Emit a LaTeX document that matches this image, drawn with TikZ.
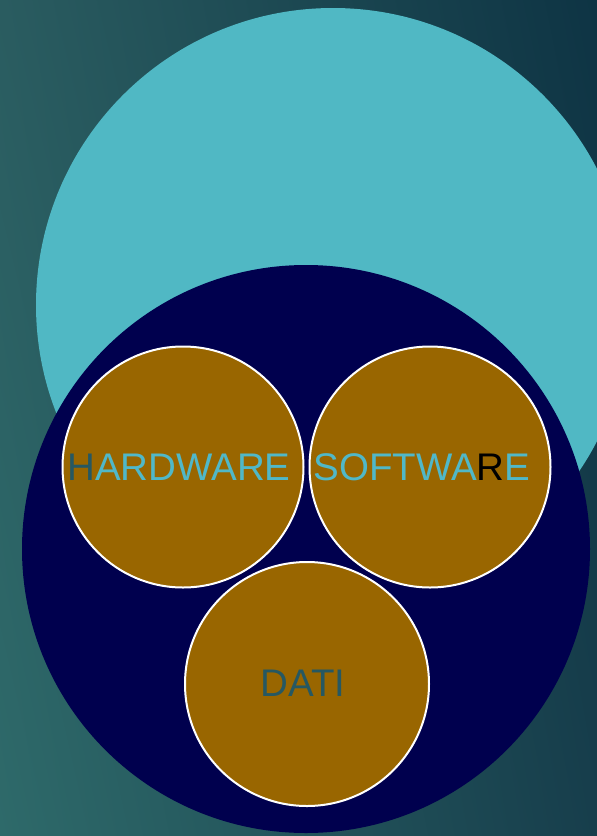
\documentclass[tikz,border=0pt]{standalone}
\usepackage{fontspec}
\setmainfont{Liberation Sans}
\usetikzlibrary{shadings,calc}
\definecolor{bgtopleft}{RGB}{42,92,96}
\definecolor{bgtopright}{RGB}{14,52,68}
\definecolor{bgbotleft}{RGB}{46,106,106}
\definecolor{bgbotright}{RGB}{23,62,76}
\definecolor{skycyan}{RGB}{80,184,196}
\definecolor{navy}{RGB}{0,0,78}
\definecolor{ochre}{RGB}{153,102,0}
\definecolor{tealtext}{RGB}{38,88,98}
\definecolor{cyantext}{RGB}{80,184,200}

\begin{document}
\begin{tikzpicture}[x=1pt, y=-1pt,
    part/.style={circle, draw=white, line width=2pt, fill=ochre, minimum size=241pt, inner sep=0pt},
    partlabel/.style={inner sep=0pt, text=cyantext, font=\fontsize{38.5}{38.5}\selectfont}
  ]
    % Frame and background
    \useasboundingbox (0,0) rectangle (597,836);
    \clip (0,0) rectangle (597,836);
    \shade[upper left=bgtopleft, upper right=bgtopright, lower left=bgbotleft, lower right=bgbotright]
      (0,0) rectangle (597,836);

    % Outer circles
    \fill[skycyan] (333,305) circle (297);
    \fill[navy] (306,549) circle (284);

    % Three parts
    \node[part] (hw)   at (183,467) {};
    \node[part] (sw)   at (430,467) {};
    \node[part, minimum size=244pt] (dati) at (307,684) {};

    % Labels
    \node[partlabel] (hwtext)   at ($(hw.center)+(-4,0)$)   {{\color{tealtext}H}ARDWARE};
    \node[partlabel] (swtext)   at ($(sw.center)+(-8,0)$)   {SOFTWA{\color{black}R}E};
    \node[partlabel, text=tealtext] (datitext) at ($(dati.center)+(-4,-1)$) {DATI};
  \end{tikzpicture}
\end{document}
